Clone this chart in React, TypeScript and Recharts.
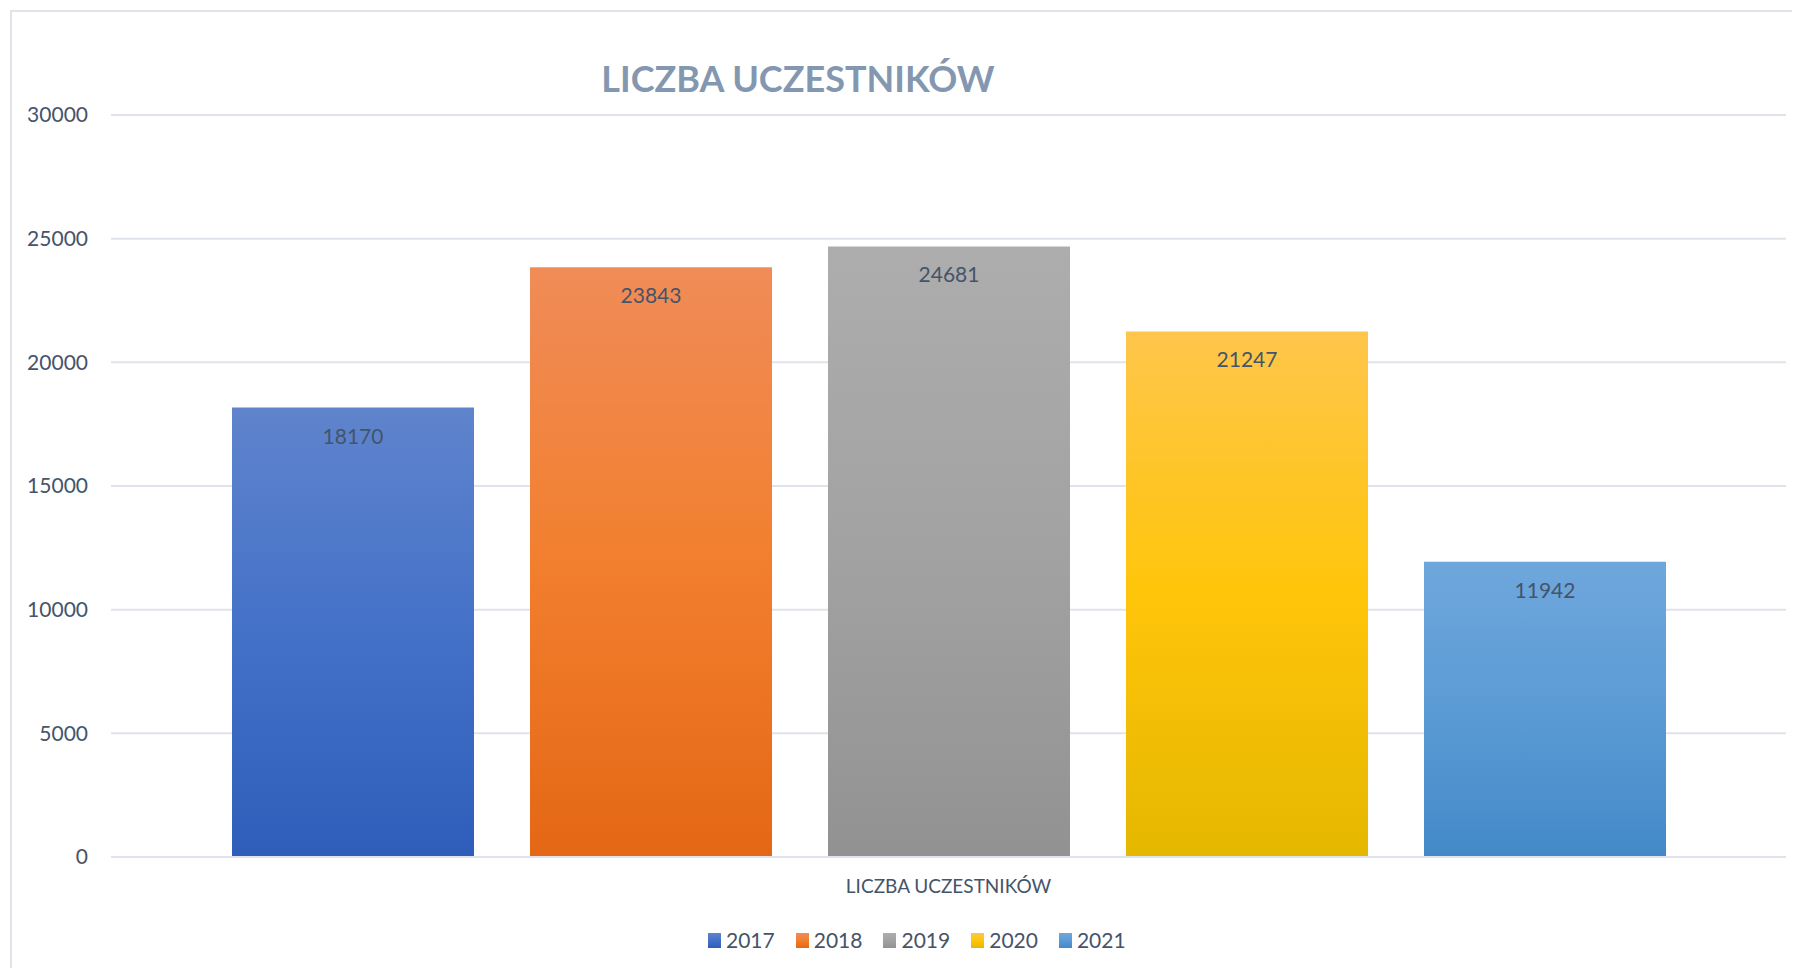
import { Bar, BarChart, CartesianGrid, LabelList, Legend, XAxis, YAxis } from "recharts";

const category = "LICZBA UCZESTNIKÓW";
const years = ["2017", "2018", "2019", "2020", "2021"];
const participants = [18170, 23843, 24681, 21247, 11942];
const yTicks = [0, 5000, 10000, 15000, 20000, 25000, 30000];

// gradient stops per series: top, middle, bottom
const topColors = ["#5F84CC", "#F08C58", "#ADADAD", "#FEC64C", "#6FA7DC"];
const midColors = ["#4471C8", "#F27F2E", "#A2A2A2", "#FFC50A", "#5B9BD5"];
const bottomColors = ["#2E5EBA", "#E46715", "#929292", "#E5B700", "#4389C8"];

const textColor = "#44546A";
const gridColor = "#DFE3EA";
const font = "Lato, 'Open Sans', sans-serif";

const row: Record<string, string | number> = { name: category };
years.forEach((y, i) => {
  row[y] = participants[i];
});
const data = [row];

function LegendContent(props: any) {
  const payload = props.payload || [];
  return (
    <div style={{ display: "flex", alignItems: "center", fontFamily: font }}>
      {payload.map((entry: any) => {
        const i = years.indexOf(String(entry.value));
        return (
          <div key={entry.value} style={{ display: "flex", alignItems: "center", marginRight: 21 }}>
            <span
              style={{
                display: "inline-block",
                width: 13,
                height: 15,
                marginRight: 5,
                background: `linear-gradient(${topColors[i]}, ${midColors[i]}, ${bottomColors[i]})`,
              }}
            />
            <span style={{ fontSize: 21, color: textColor, lineHeight: "24px" }}>{entry.value}</span>
          </div>
        );
      })}
    </div>
  );
}

export default function App() {
  return (
    <div style={{ position: "relative", width: 1784, height: 960, overflow: "hidden", background: "#fff" }}>
      <div
        style={{
          position: "absolute",
          left: 2,
          top: 2,
          width: 1900,
          height: 1100,
          borderLeft: `2px solid ${gridColor}`,
          borderTop: `2px solid ${gridColor}`,
        }}
      />
      <div
        style={{
          position: "absolute",
          left: 0,
          top: 50,
          width: 1580,
          textAlign: "center",
          fontFamily: font,
          fontWeight: 700,
          fontSize: 36,
          lineHeight: "40px",
          color: "#8497B0",
        }}
      >
        LICZBA UCZESTNIKÓW
      </div>
      <div style={{ position: "absolute", left: 0, top: 0 }}>
        <BarChart
          width={1784}
          height={960}
          data={data}
          margin={{ top: 107, right: 6, left: 0, bottom: 71 }}
          barSize={242}
          barGap={56}
          style={{ fontFamily: font }}
        >
          <defs>
            {years.map((y, i) => (
              <linearGradient key={y} id={`grad-${y}`} x1="0" y1="0" x2="0" y2="1">
                <stop offset="0%" stopColor={topColors[i]} />
                <stop offset="50%" stopColor={midColors[i]} />
                <stop offset="100%" stopColor={bottomColors[i]} />
              </linearGradient>
            ))}
          </defs>
          <CartesianGrid vertical={false} stroke={gridColor} strokeWidth={2} />
          <XAxis
            dataKey="name"
            height={40}
            tickLine={false}
            axisLine={{ stroke: gridColor, strokeWidth: 2 }}
            tickMargin={17}
            tick={{ fill: textColor, fontSize: 19 }}
          />
          <YAxis
            width={103}
            domain={[0, 30000]}
            ticks={yTicks}
            tickLine={false}
            axisLine={false}
            tickMargin={17}
            tick={{ fill: textColor, fontSize: 21 }}
          />
          <Legend
            layout="horizontal"
            verticalAlign="middle"
            align="center"
            wrapperStyle={{ left: 700, top: 920, width: 500 }}
            content={<LegendContent />}
          />
          {years.map((y) => (
            <Bar key={y} dataKey={y} name={y} fill={`url(#grad-${y})`} isAnimationActive={false}>
              <LabelList dataKey={y} position="insideTop" offset={21} fill={textColor} fontSize={21} />
            </Bar>
          ))}
        </BarChart>
      </div>
    </div>
  );
}
